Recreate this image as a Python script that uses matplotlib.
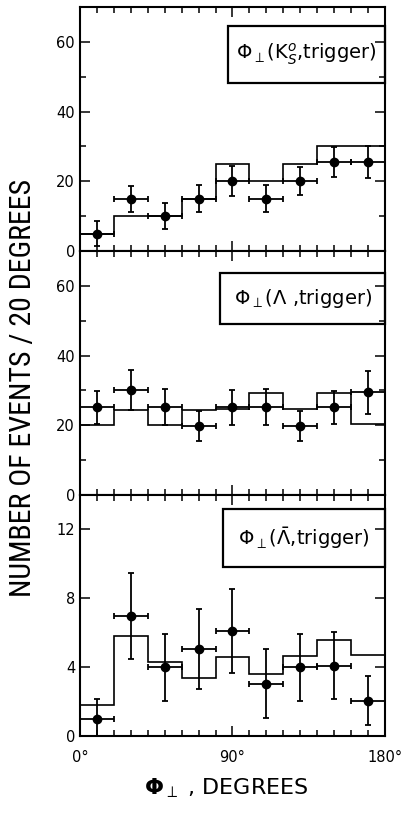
import numpy as np
import matplotlib.pyplot as plt
from matplotlib.patches import Rectangle
from matplotlib.ticker import FixedLocator, MultipleLocator

plt.rcParams['mathtext.fontset'] = 'dejavusans'

# bins of 20 degrees
edges = np.arange(0, 181, 20)
centers = edges[:-1] + 10

# K0s panel
k0_hist = [5, 10, 10, 15, 25, 20, 25, 30, 30]
k0_pts = [5, 15, 10, 15, 20, 15, 20, 25.5, 25.5]
k0_err = [3.5, 3.7, 3.7, 3.8, 4.3, 3.9, 4.0, 4.2, 4.6]

# Lambda panel
lam_hist = [20, 24.5, 20, 24.5, 24.8, 29.3, 24.8, 29.3, 20.3]
lam_pts = [25.2, 30.2, 25.2, 19.8, 25.2, 25.2, 19.7, 25.2, 29.5]
lam_err = [4.7, 5.7, 5.1, 4.3, 5.0, 5.2, 4.3, 4.7, 6.2]

# anti-Lambda panel
alam_hist = [1.8, 5.8, 4.3, 3.36, 4.6, 3.6, 4.66, 5.55, 4.68]
alam_pts = [1.0, 6.95, 4.0, 5.05, 6.08, 3.03, 4.0, 4.08, 2.06]
alam_err = [1.15, 2.5, 1.95, 2.3, 2.45, 2.0, 1.95, 1.95, 1.4]

panels = [
    (k0_hist, k0_pts, k0_err, 70, [0, 20, 40, 60], [10, 30, 50],
     r"$\Phi_{\perp}(\mathrm{K}^{o}_{S}$,trigger)", (0.484, 0.69, 0.516, 0.23)),
    (lam_hist, lam_pts, lam_err, 70, [0, 20, 40, 60], [10, 30, 50],
     r"$\Phi_{\perp}(\Lambda$ ,trigger)", (0.46, 0.70, 0.54, 0.21)),
    (alam_hist, alam_pts, alam_err, 14, [0, 4, 8, 12], [],
     r"$\Phi_{\perp}(\bar{\Lambda}$,trigger)", (0.47, 0.70, 0.53, 0.24)),
]

fig = plt.figure(figsize=(4.1, 8.25), dpi=100)
rects = [
    [0.195, 0.6958, 0.744, 0.2958],
    [0.195, 0.4, 0.744, 0.2958],
    [0.195, 0.1079, 0.744, 0.2921],
]

for i, (hist, pts, err, ymax, yt, ymin_t, label, box) in enumerate(panels):
    ax = fig.add_axes(rects[i])
    ax.stairs(hist, edges, color='black', lw=1.2)
    ax.errorbar(centers, pts, xerr=10, yerr=err, fmt='o', color='black',
                ms=6, capsize=2.5, elinewidth=1.3, capthick=1.3)
    ax.set_xlim(0, 180)
    ax.set_ylim(0, ymax)
    ax.yaxis.set_major_locator(FixedLocator(yt))
    ax.yaxis.set_minor_locator(FixedLocator(ymin_t))
    ax.xaxis.set_major_locator(FixedLocator([0, 90, 180]))
    ax.xaxis.set_minor_locator(MultipleLocator(10))
    ax.tick_params(which='both', direction='in', top=True, right=True, width=1.1)
    ax.tick_params(which='major', length=7, labelsize=10.5)
    ax.tick_params(which='minor', length=4)
    for s in ax.spines.values():
        s.set_linewidth(1.5)
    if i < 2:
        ax.set_xticklabels([])
    else:
        ax.set_xticklabels(['0°', '90°', '180°'])
        ax.tick_params(axis='x', pad=10)
    x0, y0, w, h = box
    ax.add_patch(Rectangle((x0, y0), w, h, transform=ax.transAxes, fill=False,
                           lw=1.6, color='black', clip_on=False))
    ax.text(x0 + w / 2, y0 + h / 2, label, transform=ax.transAxes,
            ha='center', va='center', fontsize=14)

fig.text(0.055, 0.53, 'NUMBER OF EVENTS / 20 DEGREES', rotation=90,
         ha='center', va='center', fontsize=21.5, fontstretch='condensed',
         family=['Liberation Sans Narrow', 'Roboto Condensed', 'PT Sans Narrow',
                 'Archivo Narrow', 'DejaVu Sans'])
fig.text(0.553, 0.045, r'$\mathbf{\Phi}_{\perp}$ , DEGREES', ha='center',
         va='center', fontsize=16)

plt.savefig('out.png', dpi=100)
